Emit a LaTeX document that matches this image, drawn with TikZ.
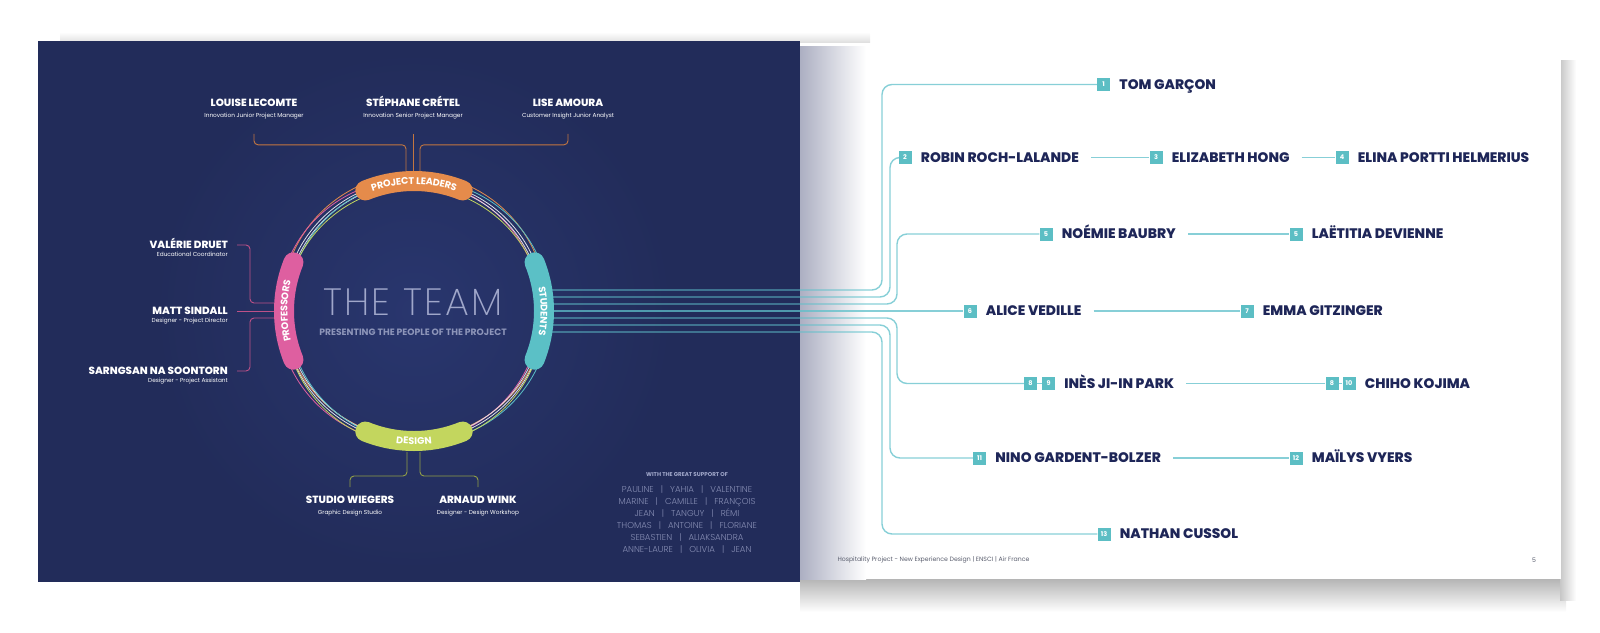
\documentclass[tikz,border=0pt]{standalone}
\usepackage{fontspec}
\setmainfont{Poppins}
\newfontfamily\lightfont{Poppins}[UprightFont={* Light}]
\newfontfamily\thinfont{Poppins}[UprightFont={* ExtraLight}, LetterSpace=6]
\newfontfamily\heavyfont{Poppins}[UprightFont={* ExtraBold}]
\usetikzlibrary{positioning, decorations.text}
\definecolor{navy}{RGB}{34,44,90}
\definecolor{navylt}{RGB}{41,54,110}
\definecolor{inknavy}{RGB}{30,38,88}
\definecolor{ldorange}{RGB}{229,139,75}
\definecolor{prpink}{RGB}{222,95,160}
\definecolor{stcyan}{RGB}{91,192,198}
\definecolor{dslime}{RGB}{195,214,94}
\definecolor{boxteal}{RGB}{92,190,196}
\definecolor{linecyan}{RGB}{95,192,202}
\definecolor{mist}{RGB}{160,167,202}
\definecolor{spine}{RGB}{172,175,194}
\definecolor{footgray}{RGB}{90,94,110}
\newcommand\bandfont{\bfseries\fontsize{9.6}{10}\selectfont\color{white}}

\begin{document}
\begin{tikzpicture}[x=1pt, y=-1pt,
  lname/.style={font=\heavyfont\fontsize{10.4}{12}\selectfont, text=white,
                inner sep=0pt, text height=7.5pt, text depth=0pt},
  ljob/.style={font=\fontsize{5.8}{7}\selectfont, text=white,
               inner sep=0pt, text height=4pt, text depth=1.2pt},
  sname/.style={font=\heavyfont\fontsize{13.8}{15}\selectfont, text=inknavy,
                inner sep=0pt, text height=9.7pt, text depth=0pt},
  num/.style={fill=boxteal, text=white, minimum size=13pt, inner sep=0pt,
              font=\bfseries\fontsize{6.5}{7}\selectfont},
  ring/.style={line width=0.8pt},
  band/.style={line width=20pt, line cap=round},
  ldrline/.style={draw=ldorange!85!black, line width=0.9pt, rounded corners=4pt},
  prfline/.style={draw=prpink!85!black, line width=0.9pt, rounded corners=4pt},
  dsgline/.style={draw=dslime!75!black, line width=0.9pt, rounded corners=4pt},
  stuline/.style={draw=linecyan, draw opacity=0.75, line width=1.4pt, rounded corners=10pt},
]
\useasboundingbox (0,0) rectangle (1600,632);

% Shadows and pages
\shade[top color=black!30, bottom color=white] (800,578) rectangle (1566,612);
\shade[left color=black!22, right color=white] (1560,60) rectangle (1576,600);
\shade[top color=white, bottom color=black!12] (60,32) rectangle (870,42);
\fill[white] (800,46) rectangle (1561,579);
\shade[left color=spine, right color=white] (800,46) rectangle (866,579);
\fill[navy] (38,41) rectangle (800,582);
\shade[inner color=navylt, outer color=navy] (414,311) circle (260);

% The circle
\begin{scope}[shift={(414,311)}, x=1pt, y=1pt]
  \draw[ring, ldorange] (0,5) circle[radius=132];
  \draw[ring, prpink] (-5,0) circle[radius=131];
  \draw[ring, white!85!navy] (0,0) circle[radius=130.5];
  \draw[ring, white!85!navy] (0,0) circle[radius=128];
  \draw[ring, stcyan] (5,0) circle[radius=131];
  \draw[ring, dslime] (0,-5) circle[radius=129];
  \draw[band, ldorange] (112:130) arc[start angle=112, end angle=68, radius=130];
  \draw[band, prpink] (202:130) arc[start angle=202, end angle=158, radius=130];
  \draw[band, stcyan] (22:130) arc[start angle=22, end angle=-22, radius=130];
  \draw[band, dslime] (248:130) arc[start angle=248, end angle=292, radius=130];
  \path[decorate, decoration={text along path, text={|\bandfont|PROJECT LEADERS},
        text align=center, raise=-3.4pt}]
    (116:130) arc[start angle=116, end angle=64, radius=130];
  \path[decorate, decoration={text along path, text={|\bandfont|PROFESSORS},
        text align=center, raise=-3.4pt}]
    (208:130) arc[start angle=208, end angle=152, radius=130];
  \path[decorate, decoration={text along path, text={|\bandfont|STUDENTS},
        text align=center, raise=-3.4pt}]
    (28:130) arc[start angle=28, end angle=-28, radius=130];
  \path[decorate, decoration={text along path, text={|\bandfont|DESIGN},
        text align=center, raise=-3.4pt}]
    (242:130) arc[start angle=242, end angle=298, radius=130];
\end{scope}

\node[font=\thinfont\fontsize{38}{38}\selectfont, text=mist] (title) at (413,302) {THE TEAM};
\node[font=\bfseries\fontsize{9.2}{10}\selectfont, text=mist!85!navy] (subtitle) at (413,332)
  {PRESENTING THE PEOPLE OF THE PROJECT};

% Band ends
\coordinate (pl-a) at (406,171);
\coordinate (pl-b) at (413,171);
\coordinate (pl-c) at (420,171);
\coordinate (pf-a) at (274,303);
\coordinate (pf-b) at (274,311);
\coordinate (pf-c) at (274,318);
\coordinate (dg-a) at (407,452);
\coordinate (dg-b) at (420,452);

% Project leaders
\node[lname] (lou) at (254,103) {LOUISE LECOMTE};
\node[ljob] (loujob) at (254,116) {Innovation Junior Project Manager};
\node[lname] (ste) at (413,103) {STÉPHANE CRÉTEL};
\node[ljob] (stejob) at (413,116) {Innovation Senior Project Manager};
\node[lname] (lis) at (568,103) {LISE AMOURA};
\node[ljob] (lisjob) at (568,116) {Customer Insight Junior Analyst};
\draw[ldrline] ([yshift=-15pt]loujob.south) -- ++(0,11) -| (pl-a);
\draw[ldrline] ([yshift=-15pt]stejob.south) -- (pl-b);
\draw[ldrline] ([yshift=-15pt]lisjob.south) -- ++(0,11) -| (pl-c);

% Professors
\node[lname, anchor=east] (val) at (228,245) {VALÉRIE DRUET};
\node[ljob, anchor=east] (valjob) at (228,255.5) {Educational Coordinator};
\node[lname, anchor=east] (mat) at (228,311) {MATT SINDALL};
\node[ljob, anchor=east] (matjob) at (228,321) {Designer - Project Director};
\node[lname, anchor=east] (sar) at (228,371) {SARNGSAN NA SOONTORN};
\node[ljob, anchor=east] (sarjob) at (228,381) {Designer - Project Assistant};
\draw[prfline] ([xshift=9pt]val.east) -- ++(13,0) |- (pf-a);
\draw[prfline] ([xshift=9pt]mat.east) -- (pf-b);
\draw[prfline] ([xshift=9pt]sar.east) -- ++(13,0) |- (pf-c);

% Design
\node[lname] (stud) at (350,500) {STUDIO WIEGERS};
\node[ljob] (studjob) at (350,513) {Graphic Design Studio};
\node[lname] (arn) at (478,500) {ARNAUD WINK};
\node[ljob] (arnjob) at (478,513) {Designer - Design Workshop};
\draw[dsgline] (dg-a) -- ++(0,24) -| ([yshift=9pt]stud.north);
\draw[dsgline] (dg-b) -- ++(0,24) -| ([yshift=9pt]arn.north);

% Support
\node[font=\bfseries\fontsize{5.6}{6}\selectfont, text=mist] (suptitle) at (687,475)
  {WITH THE GREAT SUPPORT OF};
\node[font=\lightfont\fontsize{8.6}{12}\selectfont, text=mist!80!navy, align=center] (support)
  at (687,519.5)
  {PAULINE ~~|~~ YAHIA ~~|~~ VALENTINE\\
   MARINE ~~|~~ CAMILLE ~~|~~ FRANÇOIS\\
   JEAN ~~|~~ TANGUY ~~|~~ RÉMI\\
   THOMAS ~~|~~ ANTOINE ~~|~~ FLORIANE\\
   SEBASTIEN ~~|~~ ALIAKSANDRA\\
   ANNE-LAURE ~~|~~ OLIVIA ~~|~~ JEAN};

% Students
\foreach \k in {1,...,7}
  \coordinate (s\k) at (552,283+7*\k);
\coordinate (t-a) at (882,0);
\coordinate (t-b) at (890,0);
\coordinate (t-c) at (897,0);

\node[num] (b1) at (1103.5,84.5) {1};
\node[num] (b2) at (905,157.5) {2};
\node[num] (b3) at (1156,157.5) {3};
\node[num] (b4) at (1342,157.5) {4};
\node[num] (b5) at (1046,234) {5};
\node[num] (b5r) at (1296,234) {5};
\node[num] (b6) at (970,311) {6};
\node[num] (b7) at (1247,311) {7};
\node[num] (b8) at (1030.5,383.5) {8};
\node[num] (b9) at (1048.5,383.5) {9};
\node[num] (b8r) at (1332,383.5) {8};
\node[num] (b10) at (1349,383.5) {10};
\node[num] (b11) at (979.5,458) {11};
\node[num] (b12) at (1296,458) {12};
\node[num] (b13) at (1104,534) {13};

\node[sname, right=9pt of b1] (n1) {TOM GARÇON};
\node[sname, right=9pt of b2] (n2) {ROBIN ROCH-LALANDE};
\node[sname, right=9pt of b3] (n3) {ELIZABETH HONG};
\node[sname, right=9pt of b4] (n4) {ELINA PORTTI HELMERIUS};
\node[sname, right=9pt of b5] (n5) {NOÉMIE BAUBRY};
\node[sname, right=9pt of b5r] (n5r) {LAËTITIA DEVIENNE};
\node[sname, right=9pt of b6] (n6) {ALICE VEDILLE};
\node[sname, right=9pt of b7] (n7) {EMMA GITZINGER};
\node[sname, right=9pt of b9] (n9) {INÈS JI-IN PARK};
\node[sname, right=9pt of b10] (n10) {CHIHO KOJIMA};
\node[sname, right=9pt of b11] (n11) {NINO GARDENT-BOLZER};
\node[sname, right=9pt of b12] (n12) {MAÏLYS VYERS};
\node[sname, right=9pt of b13] (n13) {NATHAN CUSSOL};

\draw[stuline] (s1) -| (t-a |- b1) -- (b1.west);
\draw[stuline] (s2) -| (t-b |- b2) -- (b2.west);
\draw[stuline] (s3) -| (t-c |- b5) -- (b5.west);
\draw[stuline] (s4) -- (b6.west);
\draw[stuline] (s5) -| (t-c |- b8) -- (b8.west);
\draw[stuline] (s6) -| (t-b |- b11) -- (b11.west);
\draw[stuline] (s7) -| (t-a |- b13) -- (b13.west);

\draw[stuline] ([xshift=12pt]n2.east) -- (b3.west);
\draw[stuline] ([xshift=12pt]n3.east) -- (b4.west);
\draw[stuline] ([xshift=12pt]n5.east) -- (b5r.west);
\draw[stuline] ([xshift=12pt]n6.east) -- (b7.west);
\draw[stuline] (b8.east) -- (b9.west);
\draw[stuline] ([xshift=12pt]n9.east) -- (b8r.west);
\draw[stuline] (b8r.east) -- (b10.west);
\draw[stuline] ([xshift=12pt]n11.east) -- (b12.west);

% Footer
\node[font=\fontsize{6.2}{7}\selectfont, text=footgray, anchor=west] (foot) at (834,560)
  {Hospitality Project - New Experience Design | ENSCI | Air France};
\node[font=\fontsize{6.2}{7}\selectfont, text=footgray] (page) at (1534,560) {5};

\end{tikzpicture}
\end{document}
